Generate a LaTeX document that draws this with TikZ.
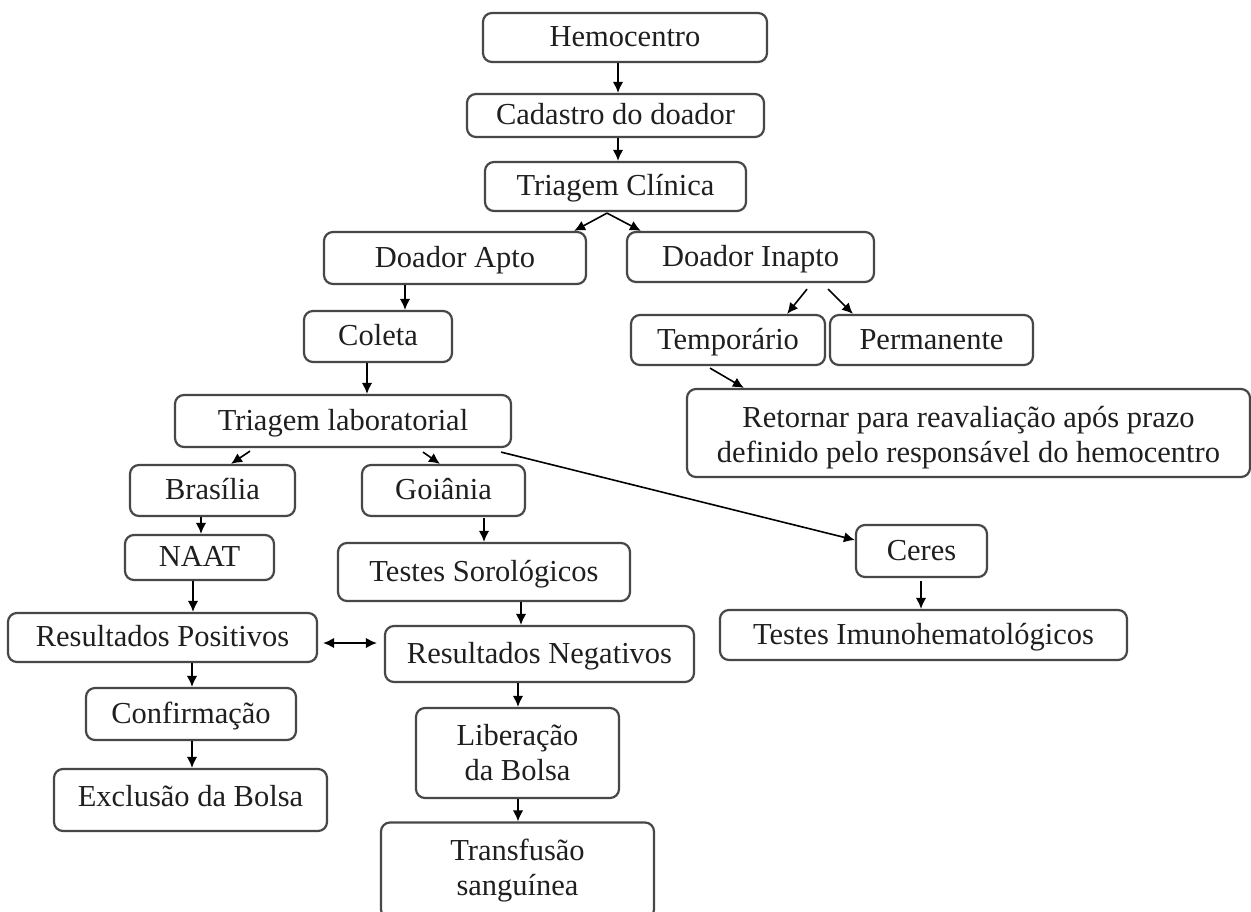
\documentclass[tikz,border=0pt]{standalone}
\usepackage{fontspec}
\setmainfont{Liberation Serif}
\usetikzlibrary{calc,arrows.meta}
\newcommand{\fsz}{\fontsize{15.25}{17.5}\selectfont}
\begin{document}
\begin{tikzpicture}[x=0.5pt,y=-0.5pt,
  bx/.style={draw=black!72, line width=1.1pt, rounded corners=4.5pt, inner sep=0pt,
             align=center, font=\fsz, text=black!88},
  one/.style={bx, text height=1.0em, text depth=0.08em},
  arr/.style={draw=black, line width=0.8pt, -{Latex[length=5.5pt,width=5.2pt]}},
  darr/.style={draw=black, line width=0.8pt, {Latex[length=5.5pt,width=5.2pt]}-{Latex[length=5.5pt,width=5.2pt]}}]
\useasboundingbox (0,0) rectangle (1251,911);
\fill[white] (0,0) rectangle (1251,911);

\node[one, minimum width=142pt, minimum height=24.5pt] (hemo) at (625,37.5) {Hemocentro};
\node[one, minimum width=148.5pt, minimum height=21.5pt] (cad) at (615.5,115.5) {Cadastro do doador};
\node[one, minimum width=130.5pt, minimum height=24.5pt] (tc) at (615.5,186.5) {Triagem Clínica};
\node[one, minimum width=131pt, minimum height=26pt] (apto) at (455,258) {Doador Apto};
\node[one, minimum width=123.5pt, minimum height=25pt] (inapto) at (750.5,257) {Doador Inapto};
\node[one, minimum width=74pt, minimum height=25.5pt] (coleta) at (378,336.5) {Coleta};
\node[one, minimum width=97pt, minimum height=25pt] (temp) at (728,340) {Temporário};
\node[one, minimum width=101.5pt, minimum height=25pt] (perm) at (931.5,340) {Permanente};
\node[bx, minimum width=281.5pt, minimum height=44pt] (ret) at (968.5,433)
  {\rule{0pt}{1.03em}Retornar para reavaliação após prazo\\definido pelo responsável do hemocentro};
\node[one, minimum width=168pt, minimum height=26pt] (tl) at (343,421) {Triagem laboratorial};
\node[one, minimum width=82.5pt, minimum height=25.5pt] (bras) at (212.5,490.5) {Brasília};
\node[one, minimum width=81.5pt, minimum height=25.5pt] (goi) at (443.5,490.5) {Goiânia};
\node[one, minimum width=74.5pt, minimum height=22.5pt] (naat) at (199.5,557.5) {NAAT};
\node[one, minimum width=146pt, minimum height=29pt] (sor) at (484,572) {Testes Sorológicos};
\node[one, minimum width=154.5pt, minimum height=24.5pt] (pos) at (162.5,637.5) {Resultados Positivos};
\node[one, minimum width=154.5pt, minimum height=28pt] (neg) at (539.5,654) {Resultados Negativos};
\node[one, minimum width=65.5pt, minimum height=26pt] (ceres) at (921.5,551) {Ceres};
\node[one, minimum width=203.5pt, minimum height=25pt] (imuno) at (923.5,635) {Testes Imunohematológicos};
\node[one, minimum width=105pt, minimum height=26pt] (conf) at (191,714) {Confirmação};
\node[bx, text height=0.86em, text depth=0.2em, minimum width=136.5pt, minimum height=31pt] (excl) at (190.5,800) {Exclusão da Bolsa};
\node[bx, minimum width=101.5pt, minimum height=45pt] (lib) at (517.5,753) {Liberação\\da Bolsa};
\node[bx, minimum width=136.5pt, minimum height=48pt] (trans) at (517.5,870.5) {Transfusão\\sanguínea};

\draw[arr] ($(hemo.south)+(-7,0)$) -- ($(cad.north)+(2.5,0)$);
\draw[arr] ($(cad.south)+(2.5,0)$) -- ($(tc.north)+(2.5,0)$);
\draw[arr] ($(tc.south)+(-8.5,1)$) -- ($(apto.north east)+(-13,0)$);
\draw[arr] ($(tc.south)+(-8.5,1)$) -- ($(inapto.north west)+(15,0)$);
\draw[arr] ($(apto.south)+(-50,0)$) -- ($(coleta.north)+(27,0)$);
\draw[arr] ($(inapto.south)+(56.5,6)$) -- ($(temp.north east)+(-39,0)$);
\draw[arr] ($(inapto.south)+(77.5,6)$) -- ($(perm.north west)+(24,0)$);
\draw[arr] ($(temp.south)+(-18,2)$) -- ($(ret.north west)+(58,0)$);
\draw[arr] ($(coleta.south)+(-11,0)$) -- ($(tl.north)+(24,0)$);
\draw[arr] ($(tl.south)+(-93,3)$) -- ($(bras.north)+(18.5,0)$);
\draw[arr] ($(tl.south)+(80,4)$) -- ($(goi.north)+(-3.5,0)$);
\draw[arr] ($(tl.south east)+(-11,4)$) -- ($(ceres.west)+(0,-11)$);
\draw[arr] ($(bras.south)+(-11.5,0)$) -- ($(naat.north)+(1.5,0)$);
\draw[arr] ($(goi.south)+(40.5,1)$) -- (sor.north);
\draw[arr] ($(naat.south)+(-6.5,0)$) -- ($(pos.north)+(30.5,0)$);
\draw[arr] ($(sor.south)+(37,0)$) -- ($(neg.north)+(-18.5,0)$);
\draw[darr] ($(pos.east)+(5,5.5)$) -- ($(neg.west)+(-7,-11)$);
\draw[arr] ($(ceres.south)+(-0.5,3)$) -- ($(imuno.north)+(-2.5,0)$);
\draw[arr] ($(pos.south)+(29.5,0)$) -- ($(conf.north)+(1,0)$);
\draw[arr] ($(conf.south)+(1,0)$) -- ($(excl.north)+(1.5,0)$);
\draw[arr] ($(neg.south)+(-21.5,0)$) -- ($(lib.north)+(0.5,0)$);
\draw[arr] ($(lib.south)+(0.5,0)$) -- ($(trans.north)+(0.5,0)$);
\end{tikzpicture}
\end{document}
